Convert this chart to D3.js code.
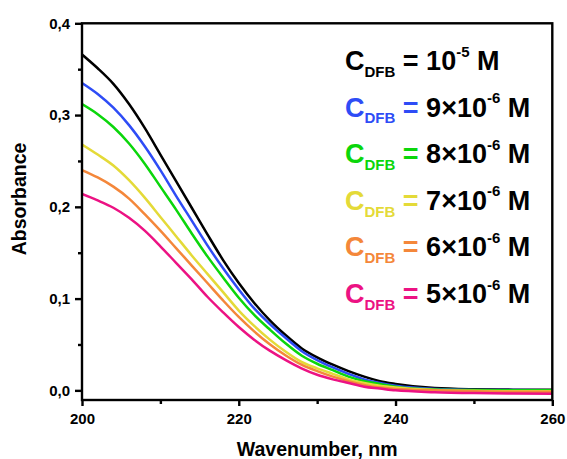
<!DOCTYPE html>
<html>
<head>
<meta charset="utf-8">
<script src="https://cdn.jsdelivr.net/npm/d3@7"></script>
<style>
  html, body { margin: 0; padding: 0; background: #fff; }
  svg { display: block; }
  text { font-family: "Liberation Sans", Arial, sans-serif; font-weight: bold; }
</style>
</head>
<body>
<svg id="chart" width="567" height="459"></svg>
<script>
// ---- data ----
const wavelengths = [200,202,204,206,208,210,212,214,216,218,220,222,224,226,228,230,232,234,236,238,240,245,250,255,260];
const absBlack  = [0.366,0.351,0.334,0.312,0.286,0.257,0.228,0.199,0.170,0.142,0.117,0.095,0.076,0.060,0.046,0.036,0.028,0.021,0.015,0.010,0.007,0.0025,0.0012,0.0008,0.0006];
const absBlue   = [0.335,0.323,0.308,0.289,0.266,0.240,0.212,0.185,0.158,0.133,0.110,0.089,0.072,0.057,0.043,0.033,0.025,0.018,0.012,0.008,0.005,0.0015,0.0005,0.0003,0.0002];
const absGreen  = [0.312,0.301,0.287,0.269,0.247,0.222,0.197,0.171,0.146,0.123,0.101,0.082,0.066,0.051,0.038,0.029,0.022,0.015,0.010,0.007,0.004,0.001,0.0003,0.0001,0.0];
const absYellow = [0.268,0.257,0.245,0.229,0.210,0.189,0.168,0.147,0.127,0.107,0.087,0.070,0.055,0.042,0.031,0.024,0.018,0.012,0.008,0.005,0.003,0.0005,-0.0005,-0.001,-0.001];
const absOrange = [0.240,0.232,0.222,0.209,0.192,0.174,0.155,0.136,0.117,0.098,0.080,0.064,0.050,0.038,0.028,0.021,0.015,0.010,0.006,0.003,0.0015,0.0,-0.001,-0.0015,-0.0015];
const absPink   = [0.214,0.207,0.199,0.188,0.174,0.157,0.139,0.121,0.102,0.085,0.069,0.055,0.043,0.033,0.024,0.017,0.012,0.008,0.004,0.002,0.0,-0.002,-0.003,-0.0035,-0.0036];
const seriesNames = ["1e-5","9e-6","8e-6","7e-6","6e-6","5e-6"];
const seriesColors = ["#000000","#2E4CF6","#0BD60B","#E4DA38","#F4873A","#EC1283"];
const legendValues = ["10", "9\u00D710", "8\u00D710", "7\u00D710", "6\u00D710", "5\u00D710"];
const legendExponents = ["-5","-6","-6","-6","-6","-6"];
const xTicks = [200,220,240,260];
const xMinorTicks = [210,230,250];
const yTicks = [0.0,0.1,0.2,0.3,0.4];
const yMinorTicks = [0.05,0.15,0.25,0.35];
const xTitle = "Wavenumber, nm";
const yTitle = "Absorbance";

const allSeries = [absBlack, absBlue, absGreen, absYellow, absOrange, absPink];

// ---- layout ----
const svg = d3.select("#chart");
const L = 82, R = 552.3, T = 23.3, B = 400;
const x = d3.scaleLinear().domain([200,260]).range([L,R]);
const y = d3.scaleLinear().domain([-0.0105,0.4]).range([B,T]);
const fmt = d => d3.format(".1f")(d).replace(".", ",");

svg.append("defs").append("clipPath").attr("id","clip")
  .append("rect").attr("x",L).attr("y",T).attr("width",R-L).attr("height",B-T);

// lines
const line = d3.line().x((d,i)=>x(wavelengths[i])).y(d=>y(d)).curve(d3.curveMonotoneX);
const lines = svg.append("g").attr("clip-path","url(#clip)");
allSeries.forEach((s,k)=>{
  lines.append("path").datum(s).attr("d",line)
    .attr("fill","none").attr("stroke",seriesColors[k]).attr("stroke-width",2.5)
    .attr("stroke-linejoin","round");
});

// axes
const axStroke = 2.4;
const gx = svg.append("g").attr("transform",`translate(0,${B})`)
  .call(d3.axisBottom(x).tickValues(xTicks).tickSize(6).tickPadding(7).tickFormat(d3.format("d")));
const gxm = svg.append("g").attr("transform",`translate(0,${B})`)
  .call(d3.axisBottom(x).tickValues(xMinorTicks).tickSize(4).tickFormat(""));
const gy = svg.append("g").attr("transform",`translate(${L},0)`)
  .call(d3.axisLeft(y).tickValues(yTicks).tickSize(7).tickPadding(5).tickFormat(fmt));
const gym = svg.append("g").attr("transform",`translate(${L},0)`)
  .call(d3.axisLeft(y).tickValues(yMinorTicks).tickSize(4).tickFormat(""));
[gx,gxm,gy,gym].forEach(g=>{
  g.select(".domain").remove();
  g.selectAll(".tick line").attr("stroke","#000").attr("stroke-width",axStroke);
  g.selectAll(".tick text").attr("font-size",15).attr("fill","#000")
   .attr("font-family","'Liberation Sans', Arial, sans-serif").attr("font-weight","bold");
});
gx.selectAll(".tick text").attr("dy","0.71em");

// frame
svg.append("rect").attr("x",L).attr("y",T).attr("width",R-L).attr("height",B-T)
  .attr("fill","none").attr("stroke","#000").attr("stroke-width",axStroke);

// titles
svg.append("text").attr("x",(L+R)/2).attr("y",456).attr("text-anchor","middle")
  .attr("font-size",19.5).text(xTitle);
svg.append("text").attr("transform","translate(25.5,199) rotate(-90)").attr("text-anchor","middle")
  .attr("font-size",19.5).text(yTitle);

// legend
const lg = svg.append("g");
seriesNames.forEach((nm,k)=>{
  const by = 70 + 46.6*k;
  const t = lg.append("text").attr("x",345).attr("y",by).attr("font-size",27);
  const c = seriesColors[k];
  t.append("tspan").attr("fill",c).text("C");
  t.append("tspan").attr("fill",c).attr("font-size",15).attr("dy",6.7).text("DFB");
  t.append("tspan").attr("fill",c).attr("dy",-6.7).text(" = ");
  t.append("tspan").attr("fill","#000").text(legendValues[k]);
  t.append("tspan").attr("fill","#000").attr("font-size",15).attr("dy",-13.5).text(legendExponents[k]);
  t.append("tspan").attr("fill","#000").attr("dy",13.5).text(" M");
});
</script>
</body>
</html>
